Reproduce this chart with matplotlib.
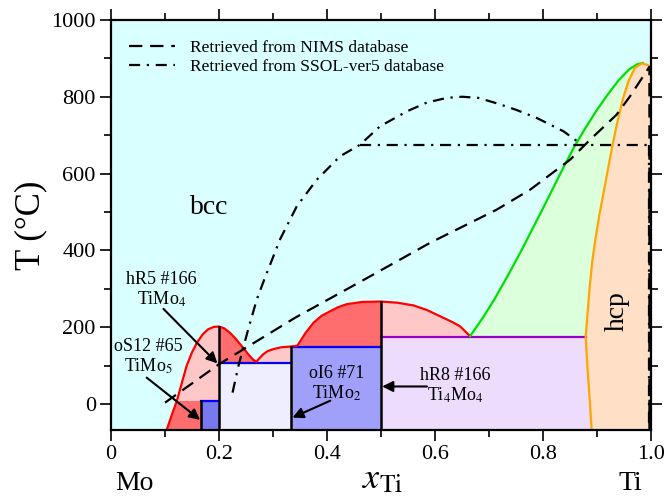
import matplotlib
matplotlib.use('Agg')
import matplotlib.pyplot as plt
from matplotlib.patches import Rectangle
import numpy as np

plt.rcParams['font.family'] = ['Liberation Serif', 'DejaVu Serif']
plt.rcParams['mathtext.fontset'] = 'stix'

# --- datos (x_Ti, T en grados C) ---
T_MIN = -67

# curva roja (limite de las fases ordenadas)
red_x = [0.103, 0.112, 0.122, 0.131, 0.140, 0.150, 0.159, 0.170, 0.180, 0.190, 0.200,
         0.210, 0.220, 0.231, 0.242, 0.250, 0.257, 0.263, 0.269, 0.275, 0.282, 0.290,
         0.300, 0.315, 0.333, 0.345, 0.360, 0.375, 0.390, 0.406, 0.420, 0.436, 0.465,
         0.500, 0.530, 0.560, 0.585, 0.609, 0.630, 0.646, 0.665]
red_T = [T_MIN, -30, 9, 55, 100, 135, 160, 182, 195, 201, 202,
         197, 186, 170, 151, 137, 125, 116, 110, 120, 130, 138,
         143, 148, 150, 152, 185, 212, 230, 242, 252, 260, 266,
         267, 264, 257, 245, 229, 215, 203, 177]

# curva verde (bcc / bcc+hcp)
green_x = [0.665, 0.690, 0.710, 0.735, 0.760, 0.780, 0.800, 0.820, 0.840, 0.860, 0.880,
           0.900, 0.920, 0.940, 0.960, 0.975, 0.985]
green_T = [177, 228, 273, 335, 400, 455, 510, 566, 622, 675, 722,
           766, 806, 843, 872, 885, 888]

# curva naranja (hcp)
orange_x = [0.890, 0.886, 0.882, 0.879, 0.882, 0.886, 0.891, 0.897, 0.904, 0.912, 0.920,
            0.928, 0.937, 0.947, 0.958, 0.970, 0.983, 0.993, 1.000]
orange_T = [T_MIN, 20, 100, 176, 230, 300, 370, 430, 490, 550, 610,
            670, 730, 790, 840, 875, 887, 883, 876]

# NIMS (discontinua)
nims_x = [0.100, 0.200, 0.341, 0.470, 0.591, 0.714, 0.776, 0.850, 0.887, 0.936, 0.961, 0.997, 0.997]
nims_T = [4, 104, 225, 325, 420, 506, 558, 636, 688, 753, 801, 878, T_MIN]

# SSOL-ver5 (punto y raya)
ssol_x = [0.225, 0.236, 0.254, 0.270, 0.285, 0.313, 0.344, 0.381, 0.424, 0.461, 0.498,
          0.548, 0.585, 0.622, 0.650, 0.680, 0.714, 0.750, 0.788, 0.838, 0.872]
ssol_T = [30, 100, 195, 273, 329, 429, 515, 584, 645, 675, 723,
          762, 785, 797, 800, 797, 783, 766, 745, 710, 675]
ssol_flat_T = 675
ssol_flat_x = [0.461, 0.997]

# compuestos: (x izq, x der, T superior)
timo5 = (1/6, 0.2, 7)
timo4 = (0.2, 1/3, 108)
timo2 = (1/3, 0.5, 150)
ti4mo4 = (0.5, 0.879, 176)
red_split_T = 7  # limite rojo oscuro / rosa a la izquierda

# colores
c_bcc = '#d9ffff'
c_pink = '#ffc8c8'
c_dark = '#ff6e6e'
c_green_fill = '#dcffdc'
c_hcp = '#ffdfc6'

fig = plt.figure(figsize=(6.65, 4.97), dpi=100)
ax = fig.add_axes([0.167, 0.135, 0.812, 0.825])
ax.set_facecolor(c_bcc)
ax.set_xlim(0, 1)
ax.set_ylim(T_MIN, 1000)

# region bajo la curva roja
ax.fill_between(red_x, T_MIN, red_T, color=c_pink, lw=0, zorder=1)
for (x0, x1, y0, y1) in [(0, timo5[0], T_MIN, red_split_T),
                         (0.2, 0.269, timo4[2], 400),
                         (1/3, 0.5, timo2[2], 400)]:
    p = ax.fill_between(red_x, T_MIN, red_T, color=c_dark, lw=0, zorder=1.5)
    clip = Rectangle((x0, y0), x1 - x0, y1 - y0, transform=ax.transData)
    p.set_clip_path(clip)

# bcc + hcp
gx = green_x + [1.0, 1.0]
gT = green_T + [878, ti4mo4[2]]
ax.fill(gx, gT, color=c_green_fill, lw=0, zorder=1)

# Ti4Mo4
ax.add_patch(Rectangle((ti4mo4[0], T_MIN), 0.4, ti4mo4[2] - T_MIN, color='#eedcfc', lw=0, zorder=2))
# hcp
ax.fill(orange_x + [1.0], orange_T + [T_MIN], color=c_hcp, lw=0, zorder=3)

# cajas de los compuestos
for (x0, x1, top), col in [(timo5, '#7878f0'), (timo4, '#eeeeff'), (timo2, '#a0a0fa')]:
    ax.add_patch(Rectangle((x0, T_MIN), x1 - x0, top - T_MIN, color=col, lw=0, zorder=2))
    ax.plot([x0, x1], [top, top], color='blue', lw=1.6, zorder=4)
ax.plot([ti4mo4[0], ti4mo4[1]], [ti4mo4[2], ti4mo4[2]], color='#9900cc', lw=1.6, zorder=4)

# lineas verticales negras
ax.plot([1/6, 1/6], [T_MIN, timo5[2]], color='black', lw=1.8, zorder=5)
ax.plot([0.2, 0.2], [T_MIN, 202], color='black', lw=1.8, zorder=5)
ax.plot([1/3, 1/3], [T_MIN, 150], color='black', lw=1.8, zorder=5)
ax.plot([0.5, 0.5], [T_MIN, 267], color='black', lw=1.8, zorder=5)

ax.plot(red_x, red_T, color='red', lw=1.6, zorder=4)
ax.plot(green_x, green_T, color='#00e000', lw=1.6, zorder=4)
ax.plot(orange_x, orange_T, color='orange', lw=1.6, zorder=4)

# datos de las bases de datos
ax.plot(nims_x, nims_T, color='black', lw=1.6, dashes=(6, 3.5), zorder=6,
        label='Retrieved from NIMS database')
ax.plot(ssol_x, ssol_T, color='black', lw=1.6, dashes=(5, 3, 1, 3), zorder=6,
        label='Retrieved from SSOL-ver5 database')
ax.plot(ssol_flat_x, [ssol_flat_T, ssol_flat_T], color='black', lw=1.6, dashes=(5, 3, 1, 3), zorder=6)
ax.plot([0.997, 0.997], [ssol_flat_T, T_MIN], color='black', lw=1.6, dashes=(5, 3, 1, 3), zorder=6)

leg = ax.legend(loc='upper left', bbox_to_anchor=(0.005, 0.99), frameon=False,
                fontsize=12.5, handlelength=2.6, labelspacing=0.17, handletextpad=0.9)

# etiquetas
ax.text(0.182, 512, 'bcc', fontsize=20, ha='center', va='center', zorder=7)
ax.text(0.938, 241, 'hcp', fontsize=20, ha='center', va='center', rotation=90, zorder=7)

ax.text(0.093, 296, 'hR5 #166\nTiMo$_4$', fontsize=13, ha='center', va='center', linespacing=1.1, zorder=7)
ax.text(0.069, 122, 'oS12 #65\nTiMo$_5$', fontsize=13, ha='center', va='center', linespacing=1.1, zorder=7)
ax.text(0.417, 52, 'oI6 #71\nTiMo$_2$', fontsize=13, ha='center', va='center', linespacing=1.1, zorder=7)
ax.text(0.637, 47, 'hR8 #166\nTi$_4$Mo$_4$', fontsize=13, ha='center', va='center', linespacing=1.1, zorder=7)

arrow = dict(arrowstyle='-|>', color='black', lw=1.5, mutation_scale=16, shrinkA=0, shrinkB=0)
ax.annotate('', xy=(0.197, 106), xytext=(0.097, 248), arrowprops=arrow, zorder=7)
ax.annotate('', xy=(0.165, -41), xytext=(0.066, 69), arrowprops=arrow, zorder=7)
ax.annotate('', xy=(0.336, -35), xytext=(0.406, 9), arrowprops=arrow, zorder=7)
ax.annotate('', xy=(0.502, 46), xytext=(0.585, 46), arrowprops=arrow, zorder=7)

# ejes
ax.set_xticks(np.arange(0, 1.01, 0.2))
ax.set_xticklabels(['0', '0.2', '0.4', '0.6', '0.8', '1.0'])
ax.set_xticks(np.arange(0.1, 1.0, 0.2), minor=True)
ax.set_yticks(np.arange(0, 1001, 200))
ax.set_yticks(np.arange(100, 1000, 200), minor=True)
ax.tick_params(which='both', direction='out', top=True, right=True, width=1.2, labelsize=16)
ax.tick_params(which='major', length=8, pad=3)
ax.tick_params(which='minor', length=5)
for s in ax.spines.values():
    s.set_linewidth(1.6)
    s.set_zorder(10)

ax.set_ylabel('T (°C)', fontsize=25, labelpad=3)
ax.text(0.502, -0.142, r'$x_{\mathrm{Ti}}$', transform=ax.transAxes, fontsize=26, ha='center', va='baseline')
ax.text(0.044, -0.146, 'Mo', transform=ax.transAxes, fontsize=20, ha='center', va='baseline')
ax.text(0.962, -0.146, 'Ti', transform=ax.transAxes, fontsize=20, ha='center', va='baseline')

fig.savefig('out.png', dpi=100)
